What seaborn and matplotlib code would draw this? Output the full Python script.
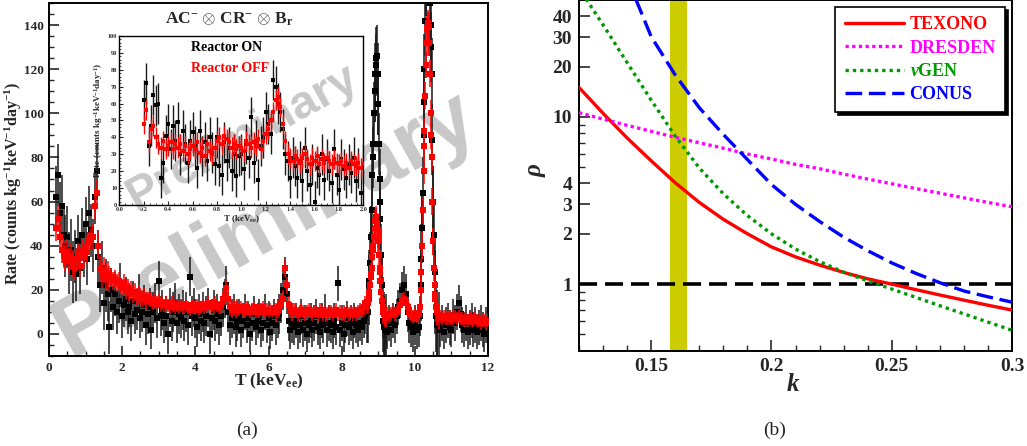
import numpy as np
import pandas as pd
import matplotlib
matplotlib.use('Agg')
import matplotlib.pyplot as plt
from matplotlib.ticker import MultipleLocator, FixedLocator, NullFormatter
import seaborn as sns

# ---------------- data ----------------
# main spectrum, 0.20 .. 12.00 keV in 0.05 keV steps
rate_on_main = [
    62, 72, 55, 58, 45, 40, 44, 32, 38, 28,
    35, 27, 42, 30, 45, 38, 50, 34, 55, 47,
    40, 62, 74, 35, 22, 30, 14, 22, 18, 3,
    20, 12, 18, 10, 15, 22, 8, 13, 16, 10,
    12, 6, 15, 9, 11, 18, 7, 10, 13, 4,
    9, 12, 2, 10, 14, 7, 24, 8, 11, 5,
    8, 0, 12, 6, 10, 14, 5, 9, 7, 11,
    6, 10, 4, 26, 8, 12, 7, 3, 9, 6,
    10, 5, 8, 12, 0, 7, 11, 6, 9, 4,
    8, 12, 16, 22, 10, 4, 7, 9, 3, 6,
    8, 2, 6, 10, 4, 7, 0, 5, 9, 3,
    6, 8, 2, 5, 10, 4, 7, 1, 5, 8,
    4, 7, 9, 14, 20, 26, 18, 6, 2, 5,
    3, 6, 1, 4, 8, 2, 5, 0, 4, 6,
    2, 5, 8, 3, 1, 6, 4, 10, 2, 5,
    4, 1, 6, 3, 23, 2, 5, 0, 4, 7,
    3, 5, 1, 6, 4, 2, 5, 3, 6, 8,
    10, 22, 44, 80, 110, 125, 104, 60, 22, 5,
    3, 1, 5, 2, 6, 4, 8, 12, 15, 20,
    22, 18, 10, 5, 3, 1, 4, 2, 3, 8,
    48, 105, 160, 188, 172, 130, 60, 22, 4, 3,
    2, 5, 1, 4, 6, 3, 2, 8, 5, 10,
    14, 9, 4, 2, 5, 1, 3, 6, 2, 4,
    1, 3, 5, 2, 0, 4, 3,
]
rate_off_main = [
    48, 52, 44, 38, 36, 34, 37, 33, 35, 32,
    30, 34, 36, 31, 38, 35, 40, 37, 41, 43,
    44, 58, 64, 40, 30, 27, 29, 26, 27, 25,
    26, 24, 25, 23, 24, 22, 21, 23, 20, 21,
    19, 20, 18, 19, 17, 18, 17, 16, 17, 15,
    16, 15, 16, 14, 15, 14, 15, 13, 14, 13,
    14, 13, 12, 14, 13, 12, 13, 12, 13, 12,
    12, 13, 12, 11, 13, 12, 12, 13, 11, 12,
    13, 12, 13, 14, 12, 13, 12, 14, 13, 12,
    13, 15, 17, 21, 16, 12, 11, 12, 11, 12,
    11, 12, 11, 10, 12, 11, 10, 11, 12, 10,
    11, 10, 11, 12, 10, 11, 10, 11, 10, 11,
    10, 11, 12, 13, 16, 30, 22, 13, 11, 10,
    11, 10, 9, 10, 11, 10, 9, 10, 11, 10,
    9, 10, 10, 9, 11, 10, 9, 10, 9, 10,
    10, 9, 10, 11, 9, 10, 9, 10, 9, 10,
    9, 10, 9, 10, 9, 10, 11, 10, 12, 14,
    14, 18, 27, 38, 48, 53, 44, 28, 15, 10,
    8, 9, 8, 9, 10, 9, 10, 11, 13, 15,
    16, 14, 12, 10, 9, 8, 9, 8, 9, 12,
    40, 85, 122, 140, 132, 90, 42, 18, 10, 8,
    8, 7, 8, 7, 7, 8, 7, 7, 8, 7,
    8, 7, 7, 6, 7, 6, 7, 6, 6, 7,
    6, 6, 5, 6, 6, 5, 6,
]
# error bar size per 0.5 keV block
err_on_block = [14, 12, 12, 10, 9, 9, 9, 9, 9, 9, 8, 8, 9, 8, 8, 8, 8, 14, 8, 9, 16, 8, 8, 8]
err_off_block = [6, 5, 6, 4, 4, 3, 3, 3, 3, 4, 3, 3, 4, 3, 3, 3, 3, 5, 3, 3, 6, 3, 3, 3]

# finer points across the two big peaks (0.02 keV steps)
t_peak1 = [8.72, 8.74, 8.76, 8.78, 8.80, 8.82, 8.84, 8.86, 8.88, 8.90, 8.92, 8.94, 8.96,
           8.98, 9.00, 9.02, 9.04, 9.06, 9.08, 9.10, 9.12, 9.14, 9.16, 9.18, 9.20]
on_peak1 = [10, 18, 24, 32, 44, 56, 72, 86, 100, 110, 118, 122, 126,
            118, 104, 86, 70, 52, 36, 22, 12, 6, 3, 2, 4]
off_peak1 = [14, 16, 19, 22, 26, 30, 35, 40, 44, 48, 51, 52, 50,
             47, 42, 36, 30, 24, 19, 15, 12, 10, 9, 8, 8]
t_peak2 = [10.16, 10.18, 10.20, 10.22, 10.24, 10.26, 10.28, 10.30, 10.32, 10.34, 10.36, 10.38,
           10.40, 10.42, 10.44, 10.46, 10.48, 10.50, 10.52, 10.54, 10.56, 10.58, 10.60]
on_peak2 = [22, 34, 48, 64, 90, 120, 142, 160, 175, 185, 190, 186,
            172, 150, 140, 118, 88, 60, 45, 28, 16, 8, 4]
off_peak2 = [20, 28, 40, 56, 74, 92, 108, 122, 132, 138, 141, 139,
             132, 118, 100, 80, 60, 42, 30, 22, 16, 12, 10]

# inset, 0.20 .. 2.00 keV in 0.02 keV steps
rate_on_inset = [
    62, 72, 35, 47, 65, 59, 60, 16, 25, 41,
    48, 33, 47, 38, 49, 30, 44, 36, 25, 38,
    43, 35, 22, 44, 29, 37, 26, 40, 31, 24,
    40, 23, 18, 37, 26, 34, 20, 30, 17, 29,
    30, 21, 36, 28, 52, 25, 38, 15, 35, 40,
    55, 48, 42, 74, 70, 60, 55, 45, 30, 26,
    16, 28, 23, 16, 26, 14, 34, 20, 12, 24,
    2, 22, 18, 30, 15, 27, 20, 13, 33, 18,
    9, 27, 21, 16, 24, 19, 28, 14, 22, 7,
    24,
]
rate_off_inset = [
    48, 56, 37, 45, 47, 40, 36, 34, 38, 33,
    35, 37, 33, 36, 34, 36, 32, 35, 30, 33,
    35, 33, 37, 31, 34, 29, 36, 32, 30, 34,
    38, 40, 36, 41, 39, 37, 34, 36, 33, 35,
    34, 32, 38, 36, 34, 37, 35, 39, 33, 38,
    42, 45, 50, 55, 62, 64, 58, 48, 38, 30,
    28, 26, 29, 27, 25, 28, 30, 27, 24, 28,
    26, 29, 24, 27, 25, 28, 26, 24, 27, 25,
    24, 26, 23, 25, 22, 26, 24, 23, 25, 22,
    24,
]

# panel (b): rho vs k
k_vals = [0.12, 0.13, 0.14, 0.15, 0.16, 0.17, 0.18, 0.19, 0.20, 0.21,
          0.22, 0.23, 0.24, 0.25, 0.26, 0.27, 0.28, 0.29, 0.30]
rho_texono = [15.0, 10.5, 7.48, 5.46, 4.04, 3.08, 2.44, 2.0, 1.67, 1.455,
              1.30, 1.175, 1.076, 1.0, 0.927, 0.861, 0.802, 0.748, 0.70]
rho_dresden = [10.6, 9.7, 8.9, 8.2, 7.55, 7.0, 6.5, 6.0, 5.6, 5.2,
               4.9, 4.55, 4.25, 3.98, 3.73, 3.5, 3.28, 3.08, 2.9]
rho_vgen = [58.9, 35.5, 21.1, 12.6, 7.67, 4.95, 3.47, 2.57, 2.0, 1.62,
            1.365, 1.18, 1.045, 0.935, 0.834, 0.743, 0.664, 0.593, 0.53]
rho_conus = [300, 200, 67.6, 30.2, 17.8, 11.35, 7.85, 5.56, 3.94, 3.0,
             2.37, 1.91, 1.585, 1.34, 1.16, 1.02, 0.91, 0.84, 0.78]
experiments = ['TEXONO', 'DRESDEN', r'$\mathit{\nu}$GEN', 'CONUS']
band_k = (0.158, 0.165)

# ---------------- style ----------------
sns.set_theme(style='ticks')
plt.rcParams['font.family'] = ['Liberation Serif', 'DejaVu Serif']
plt.rcParams['font.weight'] = 'bold'
plt.rcParams['axes.labelweight'] = 'bold'
plt.rcParams['mathtext.fontset'] = 'custom'
plt.rcParams['mathtext.rm'] = 'Liberation Serif:bold'
plt.rcParams['mathtext.it'] = 'Liberation Serif:italic:bold'
plt.rcParams['mathtext.bf'] = 'Liberation Serif:bold'
plt.rcParams['mathtext.default'] = 'rm'
plt.rcParams['xtick.direction'] = 'in'
plt.rcParams['ytick.direction'] = 'in'

fig = plt.figure(figsize=(10.27, 4.46), dpi=100)
ax = fig.add_axes([0.0477, 0.2018, 0.4275, 0.7915])
ax_in = fig.add_axes([0.1162, 0.5404, 0.2376, 0.379])
ax2 = fig.add_axes([0.5638, 0.2137, 0.4216, 0.7863])

def style_box(a, lw=1.4):
    for s in a.spines.values():
        s.set_linewidth(lw)
        s.set_color('black')

# ---------------- (a) main spectrum ----------------
t_main = np.round(0.2 + 0.05 * np.arange(len(rate_on_main)), 2)
err_on = np.repeat(err_on_block, 10)[:len(t_main)]
err_off = np.repeat(err_off_block, 10)[:len(t_main)]
on_df = pd.DataFrame({'T': np.concatenate([t_main, t_peak1, t_peak2]),
                      'rate': np.concatenate([rate_on_main, on_peak1, on_peak2]),
                      'err': np.concatenate([err_on, np.full(len(t_peak1), 14), np.full(len(t_peak2), 16)])})
off_df = pd.DataFrame({'T': np.concatenate([t_main, t_peak1, t_peak2]),
                       'rate': np.concatenate([rate_off_main, off_peak1, off_peak2]),
                       'err': np.concatenate([err_off, np.full(len(t_peak1), 5), np.full(len(t_peak2), 6)])})

ax.errorbar(on_df['T'], on_df['rate'], yerr=on_df['err'], fmt='none', ecolor='#1a1a1a', elinewidth=1.1, zorder=2)
sns.scatterplot(data=on_df, x='T', y='rate', ax=ax, marker='s', s=14, color='black', linewidth=0, zorder=3, legend=False)
ax.errorbar(off_df['T'], off_df['rate'], yerr=off_df['err'], fmt='none', ecolor='red', elinewidth=1.1, zorder=4)
sns.scatterplot(data=off_df, x='T', y='rate', ax=ax, marker='s', s=14, color='red', linewidth=0, zorder=5, legend=False)

ax.set_xlim(0, 12)
ax.set_ylim(-10, 150)
ax.xaxis.set_major_locator(MultipleLocator(2))
ax.xaxis.set_minor_locator(MultipleLocator(0.5))
ax.yaxis.set_major_locator(FixedLocator([0, 20, 40, 60, 80, 100, 120, 140]))
ax.yaxis.set_minor_locator(MultipleLocator(5))
ax.tick_params(which='major', length=7, width=1.2, labelsize=9.5, pad=4)
ax.tick_params(which='minor', length=3.5, width=1.0)
ax.set_xlabel('T (keV$_{ee}$)', fontsize=12.5)
ax.set_ylabel('Rate (counts kg$^{-1}$keV$^{-1}$day$^{-1}$)', fontsize=11.5)
ax.xaxis.set_label_coords(0.5, -0.045)
ax.yaxis.set_label_coords(-0.058, 0.49)
style_box(ax)
ax.text(0.41, 0.955, r'AC$^{-}$ $\otimes$ CR$^{-}$ $\otimes$ B$_{r}$', transform=ax.transAxes,
        ha='center', va='center', fontsize=12.5)
ax.text(0.492, 0.37, 'Preliminary', transform=ax.transAxes, ha='center', va='center', rotation=29,
        fontsize=62, color='#c8c8c8', family='Liberation Sans', weight='bold', zorder=1)

# ---------------- (a) inset ----------------
t_inset = np.round(0.2 + 0.02 * np.arange(len(rate_on_inset)), 2)
in_on = pd.DataFrame({'T': t_inset, 'rate': rate_on_inset})
in_off = pd.DataFrame({'T': t_inset, 'rate': rate_off_inset})
ax_in.errorbar(in_on['T'], in_on['rate'], yerr=12, fmt='none', ecolor='#1a1a1a', elinewidth=1.0, zorder=2)
sns.scatterplot(data=in_on, x='T', y='rate', ax=ax_in, marker='s', s=12, color='black', linewidth=0, zorder=3, legend=False)
ax_in.errorbar(in_off['T'], in_off['rate'], yerr=6, fmt='none', ecolor='red', elinewidth=1.0, zorder=4)
sns.scatterplot(data=in_off, x='T', y='rate', ax=ax_in, marker='s', s=12, color='red', linewidth=0, zorder=5, legend=False)
ax_in.set_xlim(0, 2)
ax_in.set_ylim(0, 100)
ax_in.xaxis.set_major_locator(MultipleLocator(0.2))
ax_in.xaxis.set_minor_locator(MultipleLocator(0.05))
ax_in.yaxis.set_major_locator(MultipleLocator(10))
ax_in.yaxis.set_minor_locator(MultipleLocator(2))
ax_in.tick_params(which='major', length=3, width=0.8, labelsize=4.5, pad=1.5)
ax_in.tick_params(which='minor', length=1.5, width=0.6)
ax_in.set_xlabel('T (keV$_{ee}$)', fontsize=6.5, labelpad=1)
ax_in.set_ylabel('Rate (counts kg$^{-1}$keV$^{-1}$day$^{-1}$)', fontsize=6.5, labelpad=2)
style_box(ax_in, lw=1.0)
ax_in.text(0.295, 0.93, 'Reactor ON', transform=ax_in.transAxes, ha='left', va='center', fontsize=10, color='black', zorder=6)
ax_in.text(0.295, 0.81, 'Reactor OFF', transform=ax_in.transAxes, ha='left', va='center', fontsize=10, color='red', zorder=6)
ax_in.text(0.507, 0.40, 'Preliminary', transform=ax_in.transAxes, ha='center', va='center', rotation=29,
           fontsize=34, color='#c8c8c8', family='Liberation Sans', weight='bold', zorder=1)

# ---------------- (b) rho vs k ----------------
curves = pd.DataFrame({
    'k': np.tile(k_vals, 4),
    'rho': np.concatenate([rho_texono, rho_dresden, rho_vgen, rho_conus]),
    'experiment': np.repeat(experiments, len(k_vals)),
})
palette = {'TEXONO': '#ff0000', 'DRESDEN': '#ff00ff', experiments[2]: '#009900', 'CONUS': '#0000ff'}
dashes = {'TEXONO': '', 'DRESDEN': (1.0, 1.0), experiments[2]: (1.0, 1.2), 'CONUS': (5, 2)}
ax2.axvspan(*band_k, color='#cccc00', lw=0, zorder=1)
ax2.axhline(1, color='black', lw=2.6, dashes=(5, 2.2), zorder=2)
sns.lineplot(data=curves, x='k', y='rho', hue='experiment', style='experiment', palette=palette,
             dashes=dashes, hue_order=experiments, style_order=experiments, lw=2.4, ax=ax2, zorder=3, sort=False)
ax2.set_yscale('log')
ax2.set_xlim(0.12, 0.3)
ax2.set_ylim(0.4, 50)
ax2.xaxis.set_major_locator(FixedLocator([0.15, 0.2, 0.25, 0.3]))
ax2.xaxis.set_minor_locator(MultipleLocator(0.01))
ax2.set_xticklabels(['0.15', '0.2', '0.25', '0.3'])
ax2.yaxis.set_major_locator(FixedLocator([1, 2, 3, 4, 10, 20, 30, 40]))
ax2.yaxis.set_minor_locator(FixedLocator([0.5, 0.6, 0.7, 0.8, 0.9, 5, 6, 7, 8, 9]))
ax2.yaxis.set_minor_formatter(NullFormatter())
ax2.set_yticklabels(['1', '2', '3', '4', '10', '20', '30', '40'])
ax2.tick_params(which='major', length=8, width=1.2, labelsize=14, pad=5)
ax2.tick_params(which='minor', length=4, width=1.0)
ax2.set_xlabel('k', fontsize=18, style='italic')
ax2.set_ylabel('ρ', fontsize=18, style='italic')
ax2.xaxis.set_label_coords(0.494, -0.065)
ax2.yaxis.set_label_coords(-0.075, 0.515)
style_box(ax2)
leg = ax2.legend(loc='upper right', frameon=True, fancybox=False, edgecolor='black', framealpha=1,
                 shadow={'color': 'black', 'alpha': 1, 'ox': 2, 'oy': -2}, fontsize=13, handlelength=3.3,
                 borderaxespad=0.4, labelspacing=0.35, handletextpad=0.3, borderpad=0.5, title=None)
leg.get_frame().set_linewidth(1.2)
for txt, line in zip(leg.get_texts(), leg.get_lines()):
    txt.set_color(line.get_color())

fig.text(247 / 1027, 1 - 430 / 446, '(a)', ha='center', va='center', fontsize=14, weight='normal')
fig.text(775 / 1027, 1 - 430 / 446, '(b)', ha='center', va='center', fontsize=14, weight='normal')

fig.savefig('out.png', dpi=100)
